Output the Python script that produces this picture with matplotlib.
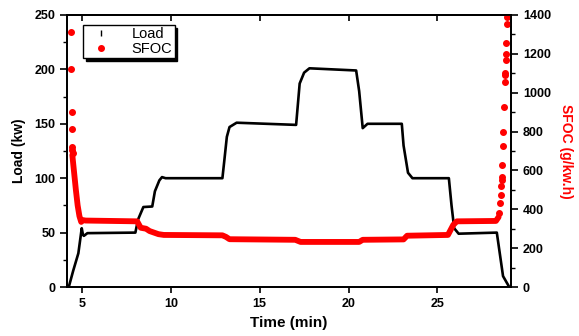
import matplotlib.pyplot as plt
from matplotlib.ticker import MultipleLocator

plt.rcParams['font.family'] = ['Liberation Sans', 'DejaVu Sans']
plt.rcParams['font.weight'] = 'bold'

# load trace (min, kw), break points of the step profile
load_t = [4.17, 4.25, 4.5, 4.79, 4.98, 5.05, 5.1, 5.3, 8.0, 8.15, 8.45, 8.95,
          9.1, 9.35, 9.5, 9.7, 12.9, 13.0, 13.15, 13.3, 13.7, 17.05, 17.25,
          17.5, 17.8, 20.43, 20.6, 20.8, 21.07, 23.0, 23.1, 23.35, 23.6,
          25.65, 25.8, 25.95, 26.2, 28.35, 28.7, 29.05]
load_kw = [0, 0, 15, 31, 54, 48, 47, 49.5, 50, 62, 73.5, 74,
           88, 98, 101, 100, 100, 115, 138, 147, 151, 149, 187,
           197, 201, 199, 180, 146, 150, 150, 130, 105, 100,
           100, 75, 54, 49, 50, 10, 0]

# SFOC (g/kw.h), dense part
sfoc_t = [4.45, 4.55, 4.65, 4.75, 4.85, 4.95, 5.0, 5.2, 8.1, 8.3, 8.6, 8.8,
          9.3, 9.6, 12.9, 13.1, 13.3, 17.0, 17.3, 20.6, 20.8, 23.1, 23.3,
          25.6, 25.9, 26.1, 28.3, 28.45]
sfoc = [680, 590, 500, 420, 365, 335, 345, 342, 338, 305, 300, 288,
        272, 268, 266, 258, 246, 243, 232, 232, 243, 245, 264,
        268, 320, 338, 340, 360]

# SFOC, single readings at start-up and shut-down
sfoc_start_t = [4.38, 4.40, 4.42, 4.44, 4.45, 4.46, 4.47]
sfoc_start = [1314, 1120, 902, 813, 720, 705, 690]
sfoc_end_t = [28.5, 28.55, 28.58, 28.6, 28.62, 28.64, 28.66, 28.7, 28.72,
              28.75, 28.8, 28.82, 28.83, 28.85, 28.86, 28.87, 28.9, 28.9]
sfoc_end = [380, 432, 473, 520, 550, 568, 628, 727, 796,
            926, 1057, 1090, 1100, 1168, 1200, 1254, 1354, 1388]

fig = plt.figure(figsize=(5.79, 3.36), dpi=100)
ax = fig.add_axes([0.1157, 0.1458, 0.7669, 0.8096])
ax2 = ax.twinx()

ax.plot(load_t, load_kw, color='black', lw=1.9, zorder=3)
ax.plot([], [], ls='none', marker='|', color='black', ms=5, label='Load')
ax.plot([], [], ls='none', marker='o', color='red', ms=4, label='SFOC')

ax2.plot(sfoc_t, sfoc, color='red', lw=4.2, solid_capstyle='round')
ax2.plot(sfoc_start_t, sfoc_start, ls='none', marker='o', color='red', ms=4)
ax2.plot(sfoc_end_t, sfoc_end, ls='none', marker='o', color='red', ms=4)

ax.set_xlim(4.15, 29.15)
ax.set_ylim(0, 250)
ax2.set_ylim(0, 1400)

ax.xaxis.set_major_locator(MultipleLocator(5))
ax.yaxis.set_major_locator(MultipleLocator(50))
ax.yaxis.set_minor_locator(MultipleLocator(25))
ax2.yaxis.set_major_locator(MultipleLocator(200))
ax2.yaxis.set_minor_locator(MultipleLocator(100))

ax.tick_params(axis='x', direction='out', length=4, width=1.2, labelsize=9, pad=4)
ax.tick_params(axis='y', which='major', direction='out', length=5, width=1.2, labelsize=9)
ax.tick_params(axis='y', which='minor', direction='out', length=3, width=1.0)
ax2.tick_params(axis='y', which='major', direction='out', length=5, width=1.2, labelsize=9)
ax2.tick_params(axis='y', which='minor', direction='out', length=3, width=1.0)

# inward ticks along the top edge
top = ax.secondary_xaxis('top')
top.xaxis.set_major_locator(MultipleLocator(5))
top.tick_params(direction='in', length=4, width=1.2, labeltop=False)

for a in (ax, ax2, top):
    for s in a.spines.values():
        s.set_linewidth(1.3)

ax.set_xlabel('Time (min)', fontsize=11, fontweight='bold', labelpad=4)
ax.set_ylabel('Load (kw)', fontsize=10, fontweight='bold', labelpad=6)
ax2.set_ylabel('SFOC (g/kw.h)', fontsize=10, fontweight='bold', color='red',
               rotation=270, labelpad=16)

leg = ax.legend(loc='upper left', bbox_to_anchor=(0.036, 0.963), borderaxespad=0,
                fancybox=False, edgecolor='black', framealpha=1, fontsize=10.5,
                handlelength=2.2, handletextpad=1.0, borderpad=0.15, labelspacing=0.05,
                shadow={'facecolor': 'black', 'edgecolor': 'black', 'alpha': 1})
leg.get_frame().set_linewidth(1.0)
for t in leg.get_texts():
    t.set_fontweight('normal')

fig.savefig('out.png', dpi=100)
